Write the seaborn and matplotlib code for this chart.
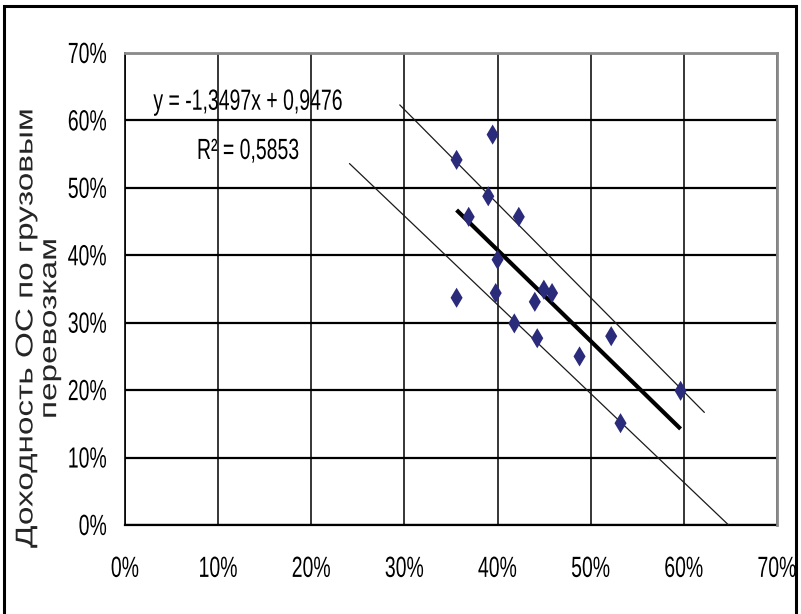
import numpy as np
import pandas as pd
import matplotlib
matplotlib.use("Agg")
import matplotlib.pyplot as plt
from matplotlib.patches import Rectangle
from matplotlib.patheffects import AbstractPathEffect
from matplotlib.transforms import Affine2D
from matplotlib.ticker import PercentFormatter
import seaborn as sns

# Share of fixed assets vs. return on fixed assets in freight transport
share_x = [0.356, 0.3947, 0.369, 0.390, 0.4228, 0.400, 0.356, 0.398, 0.418,
           0.440, 0.4426, 0.4497, 0.4585, 0.488, 0.522, 0.532, 0.5965]
return_y = [0.5415, 0.579, 0.457, 0.4875, 0.457, 0.3935, 0.337, 0.344, 0.299,
            0.331, 0.277, 0.349, 0.344, 0.250, 0.280, 0.151, 0.199]

# Linear trend as reported on the chart
slope = -1.3497
intercept = 0.9476
r_squared = 0.5853

# Hand-drawn upper and lower band lines (x, y endpoints)
upper_band_x = [0.295, 0.622]
upper_band_y = [0.623, 0.167]
lower_band_x = [0.241, 0.648]
lower_band_y = [0.536, 0.0]

tick_values = [0.0, 0.1, 0.2, 0.3, 0.4, 0.5, 0.6, 0.7]
y_title = "Доходность ОС по грузовым\nперевозкам"


class Stretch(AbstractPathEffect):
    """Scale glyph outlines about the middle of each line's cap height."""

    def __init__(self, sx=1.0, sy=1.0, cap=71.6):
        super().__init__()
        self.sx, self.sy, self.cap = sx, sy, cap

    def draw_path(self, renderer, gc, tpath, affine, rgbFace=None):
        v = tpath.vertices
        cx = (v[:, 0].min() + v[:, 0].max()) / 2 if len(v) else 0.0
        cy = self.cap / 2
        t = (Affine2D().translate(-cx, -cy).scale(self.sx, self.sy)
             .translate(cx, cy) + affine)
        renderer.draw_path(gc, tpath, t, rgbFace)


sns.set_style("white")
plt.rcParams["font.family"] = ["Liberation Sans", "DejaVu Sans"]

W, H = 801, 614
fig = plt.figure(figsize=(W / 100, H / 100), dpi=100)
left_px, right_px, top_px, bottom_px = 125, 777, 53, 525
ax = fig.add_axes([left_px / W, 1 - bottom_px / H,
                   (right_px - left_px) / W, (bottom_px - top_px) / H])

df = pd.DataFrame({"x": share_x, "y": return_y})
sns.scatterplot(data=df, x="x", y="y", ax=ax, marker="d", s=105,
                color="#2B2B7C", edgecolor="none", linewidth=0, zorder=5)

# Trend line across the observed range
fit_x = np.array([min(share_x), max(share_x)])
fit = pd.DataFrame({"x": fit_x, "y": slope * fit_x + intercept})
sns.lineplot(data=fit, x="x", y="y", ax=ax, color="black", linewidth=3,
             zorder=4, solid_capstyle="butt")

for bx, by in ((upper_band_x, upper_band_y), (lower_band_x, lower_band_y)):
    ax.plot(bx, by, color="#1A1A1A", linewidth=0.9, zorder=3)

ax.set_xlim(0, 0.7)
ax.set_ylim(0, 0.7)
ax.set_xticks(tick_values)
ax.set_yticks(tick_values)
ax.xaxis.set_major_formatter(PercentFormatter(1.0, decimals=0))
ax.yaxis.set_major_formatter(PercentFormatter(1.0, decimals=0))

ax.grid(axis="y", color="black", linewidth=1.6)
ax.grid(axis="x", color="black", linewidth=1.1)
ax.set_axisbelow(True)

ax.spines["left"].set_color("black")
ax.spines["left"].set_linewidth(1.2)
ax.spines["bottom"].set_color("black")
ax.spines["bottom"].set_linewidth(1.6)
for side in ("top", "right"):
    ax.spines[side].set_color("#8A8A8A")
    ax.spines[side].set_linewidth(2.0)
    ax.spines[side].set_zorder(3)

tall = [Stretch(sy=1.5)]
ax.tick_params(axis="both", direction="out", length=5, width=1.2,
               color="black", labelsize=14, labelcolor="black")
ax.tick_params(axis="x", pad=20.5)
ax.tick_params(axis="y", pad=8)
for lab in ax.get_xticklabels() + ax.get_yticklabels():
    lab.set_path_effects(tall)

ax.set_xlabel("")
ax.set_ylabel(y_title, fontsize=17.5, linespacing=1.1, va="center",
              ha="center", path_effects=[Stretch(sx=1.37)])
ax.yaxis.set_label_coords(-0.133, 0.415)

eq_kw = dict(ha="center", va="baseline", fontsize=14, color="black",
             zorder=6, path_effects=tall)
ax.text(0.1323, 0.621, f"y = {slope:.4f}x + {intercept:.4f}".replace(".", ","),
        **eq_kw)
ax.text(0.1323, 0.548, f"R² = {r_squared:.4f}".replace(".", ","), **eq_kw)

# Outer frame around the chart area
fig.add_artist(Rectangle((4 / W, -0.05), (796 - 4) / W, 1.05 - 6 / H,
                         transform=fig.transFigure, fill=False,
                         edgecolor="black", linewidth=2.2))

fig.savefig("out.png", dpi=100, facecolor="white")
